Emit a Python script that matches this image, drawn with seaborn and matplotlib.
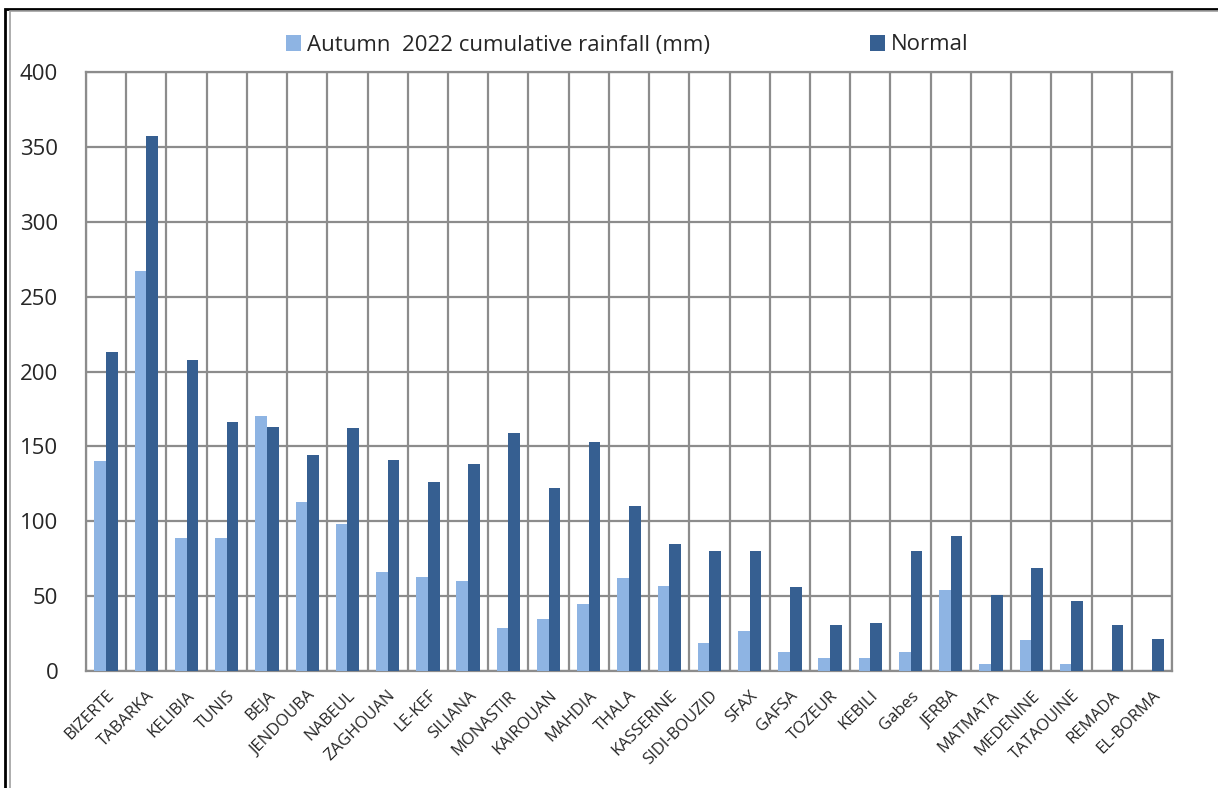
import seaborn as sns
import pandas as pd
import matplotlib.pyplot as plt
from matplotlib.patches import Rectangle
from matplotlib.ticker import MultipleLocator, FixedLocator

stations = ['BIZERTE', 'TABARKA', 'KELIBIA', 'TUNIS', 'BEJA', 'JENDOUBA', 'NABEUL',
            'ZAGHOUAN', 'LE-KEF', 'SILIANA', 'MONASTIR', 'KAIROUAN', 'MAHDIA', 'THALA',
            'KASSERINE', 'SIDI-BOUZID', 'SFAX', 'GAFSA', 'TOZEUR', 'KEBILI', 'Gabes',
            'JERBA', 'MATMATA', 'MEDENINE', 'TATAOUINE', 'REMADA', 'EL-BORMA']
autumn_2022 = [140, 267, 89, 89, 170, 113, 98, 66, 63, 60, 29, 35, 45, 62, 57, 19,
               27, 12.5, 9, 9, 13, 54, 4.5, 20.5, 4.5, 0, 0]
normal = [213, 357, 208, 166, 163, 144, 162, 141, 126, 138, 159, 122, 153, 110, 85, 80,
          80, 56, 31, 32, 80, 90, 51, 69, 47, 31, 21.5]
series_names = ['Autumn  2022 cumulative rainfall (mm)', 'Normal']

df = pd.DataFrame({
    'station': stations * 2,
    'value': autumn_2022 + normal,
    'series': [series_names[0]] * len(stations) + [series_names[1]] * len(stations),
})

sns.set_style('white')
plt.rcParams['font.family'] = ['Open Sans', 'DejaVu Sans']

fig = plt.figure(figsize=(12.18, 7.88), dpi=100)
ax = fig.add_axes([86 / 1218, 1 - 671 / 788, (1172 - 86) / 1218, (671 - 72) / 788])

grid_col = '#8c8c8c'
sns.barplot(data=df, x='station', y='value', hue='series',
            palette=['#8eb4e3', '#365f91'], width=0.58, gap=0,
            saturation=1, ax=ax, legend=True, zorder=3, linewidth=0)

ax.set_ylim(0, 400)
ax.set_xlim(-0.5, len(stations) - 0.5)
ax.yaxis.set_major_locator(MultipleLocator(50))
# vertical grid lines sit between the stations
ax.xaxis.set_minor_locator(FixedLocator([i - 0.5 for i in range(len(stations) + 1)]))
ax.grid(axis='y', which='major', color=grid_col, lw=1.6, zorder=0)
ax.grid(axis='x', which='minor', color=grid_col, lw=1.6, zorder=0)
ax.set_axisbelow(True)
for s in ax.spines.values():
    s.set_color(grid_col)
    s.set_linewidth(1.6)
ax.tick_params(axis='y', length=0, labelsize=16, pad=20)
ax.tick_params(axis='x', which='major', length=0, labelsize=12, pad=12)
ax.tick_params(axis='x', which='minor', length=6, color=grid_col, width=1.6)
ax.set_xlabel('')
ax.set_ylabel('')
plt.setp(ax.get_xticklabels(), rotation=45, ha='right', rotation_mode='anchor')

handles, labels = ax.get_legend_handles_labels()
ax.get_legend().remove()
fig.legend(handles, labels, loc='center', bbox_to_anchor=(627 / 1218, 1 - 45 / 788), ncol=2,
           frameon=False, fontsize=16, handlelength=0.7, handleheight=0.7,
           handletextpad=0.25, columnspacing=7.2)

# frame around the figure
fig.patches.append(Rectangle((5 / 1218, -10 / 788), 1230 / 1218, 789 / 788,
                             transform=fig.transFigure, fill=False,
                             edgecolor='black', lw=2))
fig.patches.append(Rectangle((10 / 1218, -10 / 788), 1230 / 1218, 787 / 788,
                             transform=fig.transFigure, fill=False,
                             edgecolor='#a0a0a0', lw=1.2))

fig.savefig('out.png', dpi=100)
